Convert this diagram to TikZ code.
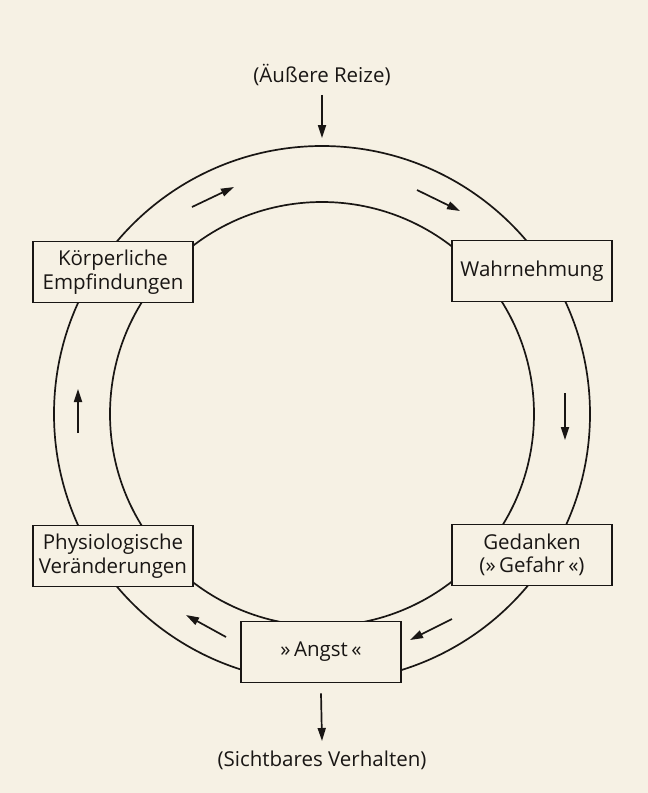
\documentclass[tikz,border=0pt]{standalone}
\usepackage{fontspec}
\setmainfont{Open Sans}
\usetikzlibrary{arrows.meta}
\definecolor{paper}{RGB}{246,241,228}
\definecolor{ink}{RGB}{25,22,20}
\tikzset{
  box/.style={draw=ink, line width=1.7pt, fill=paper, minimum width=160pt, minimum height=61pt, inner sep=0pt, align=center, font=\fontsize{20.5}{23.5}\selectfont, text=ink},
  lbl/.style={font=\fontsize{20.5}{24}\selectfont, text=ink, inner sep=0pt},
  ring/.style={draw=ink, line width=1.7pt},
  arr/.style={draw=ink, line width=1.7pt, -{Triangle[length=13pt,width=8pt]}}
}
\begin{document}
\begin{tikzpicture}[x=1pt,y=-1pt]
\fill[paper] (0,0) rectangle (648,793);
\useasboundingbox (0,0) rectangle (648,793);
\coordinate (c) at (322,414);
\draw[ring] (c) circle (268pt);
\draw[ring] (c) circle (212pt);
\node[box] (k) at (113,272) {Körperliche\\Empfindungen};
\node[box] (w) at (532,271) {Wahrnehmung};
\node[box] (p) at (113,556) {Physiologische\\Veränderungen};
\node[box] (g) at (532,555) {Gedanken\\(»\,Gefahr\,«)};
\node[box] (a) at (321,652) {»\,Angst\,«};
\node[lbl] (reize) at (322,75) {(Äußere Reize)};
\node[lbl] (verh) at (322,760) {(Sichtbares Verhalten)};
\coordinate (top) at (322,138);
\coordinate (bot) at (322,741);
\draw[arr] (reize.south) ++(0,9) -- (top);
\draw[arr] (a.south) ++(0,10) -- (bot);
% cycle arrows
\coordinate (t1s) at (192,207); \coordinate (t1e) at (234,187);
\coordinate (t2s) at (417,190); \coordinate (t2e) at (460,211);
\coordinate (r1s) at (565,393); \coordinate (r1e) at (565,440);
\coordinate (b1s) at (452,619); \coordinate (b1e) at (410,640);
\coordinate (b2s) at (226,637); \coordinate (b2e) at (186,615);
\coordinate (l1s) at (78,433);  \coordinate (l1e) at (78,389);
\draw[arr] (t1s) -- (t1e);
\draw[arr] (t2s) -- (t2e);
\draw[arr] (r1s) -- (r1e);
\draw[arr] (b1s) -- (b1e);
\draw[arr] (b2s) -- (b2e);
\draw[arr] (l1s) -- (l1e);
\end{tikzpicture}
\end{document}
